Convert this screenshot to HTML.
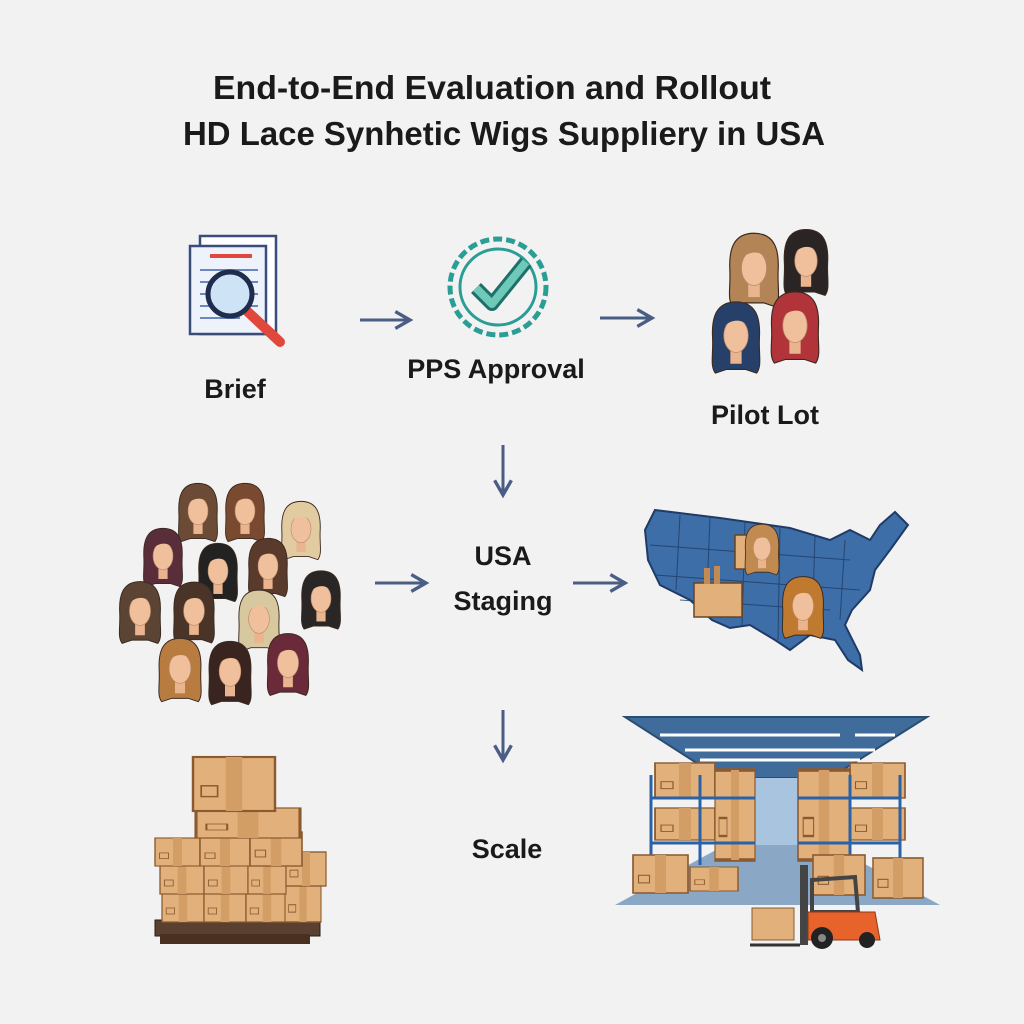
<!DOCTYPE html>
<html><head><meta charset="utf-8"><style>
html,body{margin:0;padding:0;background:#f2f2f2;}
svg{display:block}
text{font-family:"Liberation Sans",sans-serif;font-weight:bold;fill:#1a1a1a}
</style></head><body>
<svg width="1024" height="1024" viewBox="0 0 1024 1024" xmlns="http://www.w3.org/2000/svg">
<defs>
<symbol id="wig" viewBox="0 0 60 80" overflow="visible">
<path d="M30 2 C8 2 4 20 5 40 C6 58 2 70 8 78 L20 74 L40 74 L52 78 C58 70 54 58 55 40 C56 20 52 2 30 2Z" fill="currentColor" stroke="#3a2a20" stroke-width="1.2"/>
<rect x="24" y="52" width="12" height="16" fill="#e9b48e"/>
<ellipse cx="30" cy="38" rx="13" ry="18" fill="#f0c09c" stroke="#b98a6a" stroke-width="0.8"/>
<path d="M15 30 C18 12 42 10 46 32 C40 20 26 18 15 30Z" fill="currentColor"/>
</symbol>
<symbol id="box" viewBox="0 0 40 30" overflow="visible" preserveAspectRatio="none">
<rect x="0" y="0" width="40" height="30" fill="#e2b07a" stroke="#8a5a30" stroke-width="1.2"/>
<rect x="16" y="0" width="8" height="30" fill="#d29e66"/>
<rect x="4" y="16" width="8" height="6" fill="none" stroke="#8a5a30" stroke-width="0.8"/>
</symbol>
<marker id="ah" viewBox="0 0 10 10" refX="8" refY="5" markerWidth="7" markerHeight="7" orient="auto"><path d="M1 1 L8 5 L1 9" fill="none" stroke="#4a5d85" stroke-width="1.6"/></marker>
</defs>

<text x="492" y="99" font-size="33" text-anchor="middle" textLength="558" lengthAdjust="spacingAndGlyphs">End-to-End Evaluation and Rollout</text>
<text x="504" y="145" font-size="33" text-anchor="middle" textLength="642" lengthAdjust="spacingAndGlyphs">HD Lace Synhetic Wigs Suppliery in USA</text>

<!-- Brief icon -->
<rect x="200" y="236" width="76" height="98" fill="#fff" stroke="#3a4d7a" stroke-width="2.5"/>
<rect x="190" y="246" width="76" height="88" fill="#eef2fa" stroke="#3a4d7a" stroke-width="2.5"/>
<line x1="210" y1="256" x2="252" y2="256" stroke="#e0483c" stroke-width="4"/>
<g stroke="#6c86c0" stroke-width="2"><line x1="200" y1="270" x2="258" y2="270"/><line x1="200" y1="282" x2="258" y2="282"/><line x1="200" y1="294" x2="258" y2="294"/><line x1="200" y1="306" x2="258" y2="306"/><line x1="200" y1="318" x2="240" y2="318"/></g>
<line x1="248" y1="312" x2="280" y2="342" stroke="#e0483c" stroke-width="10" stroke-linecap="round"/>
<circle cx="230" cy="294" r="22" fill="#cfe3f6" stroke="#1f2d4c" stroke-width="5"/>
<text x="235" y="398" font-size="27" text-anchor="middle">Brief</text>

<line x1="360" y1="320" x2="410" y2="320" stroke="#4a5d85" stroke-width="3" marker-end="url(#ah)"/>

<!-- PPS badge -->
<circle cx="498" cy="287" r="48" fill="none" stroke="#2a9d94" stroke-width="5" stroke-dasharray="9 4"/>
<circle cx="498" cy="287" r="38" fill="none" stroke="#2a9d94" stroke-width="3"/>
<path d="M476 288 L492 304 L526 262" fill="none" stroke="#1f6f6a" stroke-width="14" stroke-linejoin="round"/>
<path d="M476 288 L492 304 L526 262" fill="none" stroke="#6fc9b8" stroke-width="8" stroke-linejoin="round"/>
<text x="496" y="378" font-size="27" text-anchor="middle">PPS Approval</text>

<line x1="600" y1="318" x2="652" y2="318" stroke="#4a5d85" stroke-width="3" marker-end="url(#ah)"/>

<!-- Pilot lot wigs -->
<use href="#wig" x="780" y="225" width="52" height="75" color="#2a2424"/>
<use href="#wig" x="725" y="230" width="58" height="80" color="#b38455"/>
<use href="#wig" x="705" y="300" width="62" height="75" color="#27406a"/>
<use href="#wig" x="765" y="290" width="60" height="75" color="#b0343a"/>
<text x="765" y="424" font-size="27" text-anchor="middle">Pilot Lot</text>

<line x1="503" y1="445" x2="503" y2="495" stroke="#4a5d85" stroke-width="3" marker-end="url(#ah)"/>

<!-- wig grid -->
<use href="#wig" x="175" y="480" width="46" height="65" color="#6b4a36"/>
<use href="#wig" x="222" y="480" width="46" height="65" color="#7a4a30"/>
<use href="#wig" x="278" y="498" width="46" height="65" color="#e2cba0"/>
<use href="#wig" x="140" y="525" width="46" height="65" color="#5a2d3a"/>
<use href="#wig" x="195" y="540" width="46" height="65" color="#222"/>
<use href="#wig" x="245" y="535" width="46" height="65" color="#5a3a2a"/>
<use href="#wig" x="298" y="565" width="46" height="70" color="#2a2626"/>
<use href="#wig" x="115" y="580" width="50" height="65" color="#5c4434"/>
<use href="#wig" x="170" y="580" width="48" height="65" color="#4a3428"/>
<use href="#wig" x="235" y="588" width="48" height="65" color="#d8c8a0"/>
<use href="#wig" x="155" y="635" width="50" height="70" color="#b87c40"/>
<use href="#wig" x="205" y="638" width="50" height="70" color="#3a2420"/>
<use href="#wig" x="262" y="632" width="52" height="65" color="#6a2a3a"/>

<line x1="375" y1="583" x2="426" y2="583" stroke="#4a5d85" stroke-width="3" marker-end="url(#ah)"/>
<text x="503" y="565" font-size="27" text-anchor="middle">USA</text>
<text x="503" y="610" font-size="27" text-anchor="middle">Staging</text>
<line x1="573" y1="583" x2="625" y2="583" stroke="#4a5d85" stroke-width="3" marker-end="url(#ah)"/>

<!-- USA map -->
<path d="M655 510 L720 518 L790 528 L830 540 L850 530 L870 540 L880 525 L895 512 L908 525 L890 550 L875 570 L870 590 L852 610 L845 625 L860 655 L862 670 L848 660 L835 640 L810 635 L790 650 L775 640 L750 625 L730 628 L712 620 L690 600 L660 585 L648 560 L645 530 Z" fill="#3d6ea8" stroke="#1f3b66" stroke-width="2"/>
<g stroke="#1f3b66" stroke-width="1" fill="none" opacity="0.8">
<path d="M680 515 L676 590 M710 518 L706 615 M745 522 L742 625 M780 528 L778 640 M815 535 L812 635 M845 540 L840 620"/>
<path d="M650 545 L850 560 M655 575 L860 590 M680 600 L830 610"/>
</g>
<rect x="735" y="535" width="40" height="34" fill="#e2b07a" stroke="#6a4420" stroke-width="1.5"/>
<use href="#wig" x="742" y="522" width="40" height="55" color="#c08a50"/>
<rect x="694" y="583" width="48" height="34" fill="#e2b07a" stroke="#6a4420" stroke-width="1.5"/>
<rect x="704" y="568" width="6" height="16" fill="#c08a50"/><rect x="714" y="566" width="6" height="18" fill="#c08a50"/>
<use href="#wig" x="778" y="575" width="50" height="65" color="#c07a30"/>

<line x1="503" y1="710" x2="503" y2="760" stroke="#4a5d85" stroke-width="3" marker-end="url(#ah)"/>
<text x="507" y="858" font-size="27" text-anchor="middle">Scale</text>

<!-- pallet boxes -->
<rect x="155" y="920" width="165" height="16" fill="#5a4030" stroke="#2a1a10"/>
<rect x="160" y="934" width="150" height="10" fill="#4a3020"/>
<use href="#box" x="162" y="892" width="42" height="30"/>
<use href="#box" x="204" y="892" width="42" height="30"/>
<use href="#box" x="246" y="892" width="42" height="30"/>
<use href="#box" x="285" y="885" width="36" height="37"/>
<use href="#box" x="160" y="864" width="44" height="30"/>
<use href="#box" x="204" y="864" width="44" height="30"/>
<use href="#box" x="248" y="864" width="38" height="30"/>
<use href="#box" x="286" y="852" width="40" height="34"/>
<use href="#box" x="155" y="838" width="45" height="28"/>
<use href="#box" x="200" y="838" width="50" height="28"/>
<use href="#box" x="250" y="832" width="52" height="34"/>
<use href="#box" x="196" y="808" width="104" height="30"/>
<use href="#box" x="193" y="757" width="82" height="54"/>

<!-- warehouse -->
<polygon points="625,717 927,717 830,778 720,778" fill="#3f6c9a" stroke="#2a4d72" stroke-width="2"/>
<g stroke="#fff" stroke-width="3"><line x1="660" y1="735" x2="840" y2="735"/><line x1="855" y1="735" x2="895" y2="735"/><line x1="685" y1="750" x2="875" y2="750"/><line x1="700" y1="760" x2="860" y2="760"/></g>
<rect x="720" y="778" width="110" height="72" fill="#a9c4de"/>
<polygon points="725,845 830,845 940,905 615,905" fill="#8aa7c6"/>
<g>
<use href="#box" x="655" y="763" width="60" height="35"/>
<use href="#box" x="655" y="808" width="60" height="32"/>
<use href="#box" x="715" y="770" width="40" height="90"/>
<line x1="651" y1="775" x2="651" y2="860" stroke="#2a62a8" stroke-width="3"/>
<line x1="700" y1="775" x2="700" y2="865" stroke="#2a62a8" stroke-width="3"/>
<line x1="651" y1="798" x2="755" y2="798" stroke="#2a62a8" stroke-width="3"/>
<line x1="651" y1="843" x2="755" y2="843" stroke="#2a62a8" stroke-width="3"/>
<use href="#box" x="633" y="855" width="55" height="38"/>
<use href="#box" x="690" y="867" width="48" height="24"/>
</g>
<g>
<use href="#box" x="850" y="763" width="55" height="35"/>
<use href="#box" x="850" y="808" width="55" height="32"/>
<use href="#box" x="798" y="770" width="52" height="90"/>
<line x1="900" y1="775" x2="900" y2="860" stroke="#2a62a8" stroke-width="3"/>
<line x1="850" y1="775" x2="850" y2="865" stroke="#2a62a8" stroke-width="3"/>
<line x1="798" y1="798" x2="900" y2="798" stroke="#2a62a8" stroke-width="3"/>
<line x1="798" y1="843" x2="900" y2="843" stroke="#2a62a8" stroke-width="3"/>
<use href="#box" x="873" y="858" width="50" height="40"/>
<use href="#box" x="813" y="855" width="52" height="40"/>
</g>
<!-- forklift -->
<rect x="752" y="908" width="42" height="32" fill="#e2b07a" stroke="#8a5a30"/>
<line x1="750" y1="945" x2="800" y2="945" stroke="#333" stroke-width="3"/>
<rect x="800" y="865" width="8" height="80" fill="#444"/>
<path d="M812 880 L855 877 L858 912 L812 912 Z" fill="none" stroke="#444" stroke-width="4"/>
<path d="M808 912 L875 912 L880 940 L808 940 Z" fill="#e8622c" stroke="#8a3a1a"/>
<circle cx="822" cy="938" r="11" fill="#222"/><circle cx="822" cy="938" r="4" fill="#888"/>
<circle cx="867" cy="940" r="8" fill="#222"/>
</svg>
</body></html>
